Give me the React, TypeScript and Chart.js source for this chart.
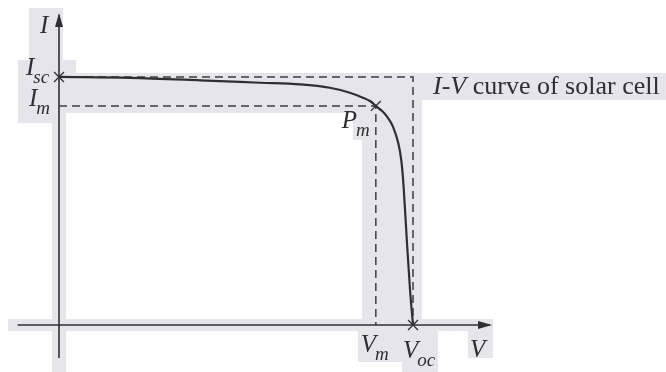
import { useEffect, useRef } from "react";
import { Chart, registerables } from "chart.js";

Chart.register(...registerables);

// I-V characteristic of a solar cell (normalised units: volts / amps)
const VOLTAGE = [0, 0.12, 0.239, 0.341, 0.409, 0.459, 0.493, 0.515, 0.529, 0.537, 0.546, 0.556, 0.566, 0.575, 0.58, 0.583, 0.586, 0.59, 0.595, 0.6];
const CURRENT = [3.0, 2.99, 2.96, 2.93, 2.91, 2.87, 2.81, 2.75, 2.7, 2.65, 2.6, 2.52, 2.4, 2.2, 2.0, 1.78, 1.45, 0.97, 0.42, 0];

const V_OC = 0.6;
const I_SC = 3.0;
const V_M = 0.537;
const I_M = 2.65;

// axis extents (data units)
const X_AXIS = [-0.07, 0.7305];
const Y_AXIS = [-0.4, 3.75];

// view window
const X_RANGE = [-0.1, 1.0288];
const Y_RANGE = [-0.5685, 3.931];

// light highlight patches behind the drawing: [v1, v2, iTop, iBottom]
const SHADES: [number, number, number, number][] = [
  [-0.051, 0.0068, 3.834, 3.205],
  [-0.0695, -0.0017, 3.205, 2.443],
  [-0.0695, 0.0288, 3.205, 3.048],
  [-0.0017, 0.615, 3.048, 2.564],
  [0.615, 1.03, 3.048, 2.722],
  [0.498, 0.615, 2.564, 2.238],
  [0.5136, 0.615, 2.238, -0.085],
  [-0.0119, 0.0119, 2.564, -0.57],
  [-0.0864, 0.7356, 0.0726, -0.0726],
  [0.5068, 0.5814, -0.0726, -0.4476],
  [0.5814, 0.6424, -0.0726, -0.57],
  [0.693, 0.7356, -0.0726, -0.399],
];

type Label = { main: string; sub: string; v: number; i: number; dx: number; dy: number };

const LABELS: Label[] = [
  { main: "I", sub: "", v: 0, i: Y_AXIS[1], dx: -19, dy: 18 },
  { main: "I", sub: "sc", v: 0, i: I_SC, dx: -33, dy: -2 },
  { main: "I", sub: "m", v: 0, i: I_M, dx: -30, dy: 0 },
  { main: "P", sub: "m", v: V_M, i: I_M, dx: -34, dy: 22 },
  { main: "V", sub: "m", v: V_M, i: 0, dx: -15, dy: 27 },
  { main: "V", sub: "oc", v: V_OC, i: 0, dx: -10, dy: 33 },
  { main: "V", sub: "", v: X_AXIS[1], i: 0, dx: -20, dy: 32 },
];

const INK = "#2e2e33";
const DASH_INK = "#3c3c42";
const SHADE = "#e6e5eb";
const SERIF = '"Liberation Serif", "DejaVu Serif", serif';

const shadePlugin = {
  id: "shade",
  beforeDatasetsDraw(chart: any) {
    const { ctx, scales } = chart;
    const x = scales.x;
    const y = scales.y;
    ctx.save();
    ctx.fillStyle = SHADE;
    for (const [v1, v2, t, b] of SHADES) {
      const px1 = x.getPixelForValue(v1);
      const px2 = x.getPixelForValue(v2);
      const py1 = y.getPixelForValue(t);
      const py2 = y.getPixelForValue(b);
      ctx.fillRect(px1, py1, px2 - px1, py2 - py1);
    }
    ctx.restore();
  },
};

const annotatePlugin = {
  id: "annotate",
  afterDatasetsDraw(chart: any) {
    const { ctx, scales } = chart;
    const x = scales.x;
    const y = scales.y;
    ctx.save();
    ctx.fillStyle = INK;

    // arrow heads
    const ax = x.getPixelForValue(X_AXIS[1]);
    const ay = y.getPixelForValue(0);
    ctx.beginPath();
    ctx.moveTo(ax + 2, ay);
    ctx.lineTo(ax - 12, ay - 4);
    ctx.lineTo(ax - 12, ay + 4);
    ctx.closePath();
    ctx.fill();
    const bx = x.getPixelForValue(0);
    const by = y.getPixelForValue(Y_AXIS[1]);
    ctx.beginPath();
    ctx.moveTo(bx, by - 2);
    ctx.lineTo(bx - 4, by + 12);
    ctx.lineTo(bx + 4, by + 12);
    ctx.closePath();
    ctx.fill();

    // symbol labels with subscripts
    ctx.textBaseline = "alphabetic";
    ctx.textAlign = "left";
    for (const l of LABELS) {
      const px = x.getPixelForValue(l.v) + l.dx;
      const py = y.getPixelForValue(l.i) + l.dy;
      ctx.font = `italic 25px ${SERIF}`;
      ctx.fillText(l.main, px, py);
      const w = ctx.measureText(l.main).width;
      if (l.sub) {
        ctx.font = `italic 19px ${SERIF}`;
        ctx.fillText(l.sub, px + w - 1, py + 8);
      }
    }

    // caption
    const cx = x.getPixelForValue(V_OC) + 20;
    const cy = y.getPixelForValue(I_SC) + 17;
    ctx.font = `italic 26px ${SERIF}`;
    ctx.fillText("I-V", cx, cy);
    const w = ctx.measureText("I-V").width;
    ctx.font = `26px ${SERIF}`;
    ctx.fillText(" curve of solar cell", cx + w, cy);
    ctx.restore();
  },
};

export default function App() {
  const ref = useRef<HTMLCanvasElement | null>(null);

  useEffect(() => {
    if (!ref.current) return;
    const curve = VOLTAGE.map((v, k) => ({ x: v, y: CURRENT[k] }));
    const chart = new Chart(ref.current, {
      type: "scatter",
      data: {
        datasets: [
          {
            label: "I-V",
            data: curve,
            showLine: true,
            borderColor: INK,
            borderWidth: 2.2,
            pointRadius: 0,
            cubicInterpolationMode: "monotone",
          },
          {
            label: "markers",
            data: [
              { x: 0, y: I_SC },
              { x: V_M, y: I_M },
              { x: V_OC, y: 0 },
            ],
            showLine: false,
            pointStyle: "crossRot",
            pointRadius: 7,
            borderColor: INK,
            borderWidth: 1.3,
          },
          {
            label: "Isc-Voc box",
            data: [
              { x: 0, y: I_SC },
              { x: V_OC, y: I_SC },
              { x: V_OC, y: 0 },
            ],
            showLine: true,
            borderColor: DASH_INK,
            borderWidth: 1.5,
            borderDash: [8, 5],
            pointRadius: 0,
          },
          {
            label: "Im-Vm box",
            data: [
              { x: 0, y: I_M },
              { x: V_M, y: I_M },
              { x: V_M, y: 0 },
            ],
            showLine: true,
            borderColor: DASH_INK,
            borderWidth: 1.5,
            borderDash: [8, 5],
            pointRadius: 0,
          },
          {
            label: "V axis",
            data: [
              { x: X_AXIS[0], y: 0 },
              { x: X_AXIS[1], y: 0 },
            ],
            showLine: true,
            borderColor: INK,
            borderWidth: 1.6,
            pointRadius: 0,
          },
          {
            label: "I axis",
            data: [
              { x: 0, y: Y_AXIS[0] },
              { x: 0, y: Y_AXIS[1] },
            ],
            showLine: true,
            borderColor: INK,
            borderWidth: 1.6,
            pointRadius: 0,
          },
        ],
      },
      options: {
        animation: false,
        responsive: false,
        maintainAspectRatio: false,
        devicePixelRatio: 1,
        layout: { padding: 0, autoPadding: false },
        events: [],
        scales: {
          x: { type: "linear", display: false, min: X_RANGE[0], max: X_RANGE[1] },
          y: { type: "linear", display: false, min: Y_RANGE[0], max: Y_RANGE[1] },
        },
        plugins: {
          legend: { display: false },
          tooltip: { enabled: false },
        },
      },
      plugins: [shadePlugin, annotatePlugin],
    } as any);
    return () => chart.destroy();
  }, []);

  return (
    <div style={{ position: "absolute", left: 0, top: 0, width: 666, height: 372, background: "#fff" }}>
      <canvas ref={ref} width={666} height={372} style={{ display: "block" }} />
    </div>
  );
}
